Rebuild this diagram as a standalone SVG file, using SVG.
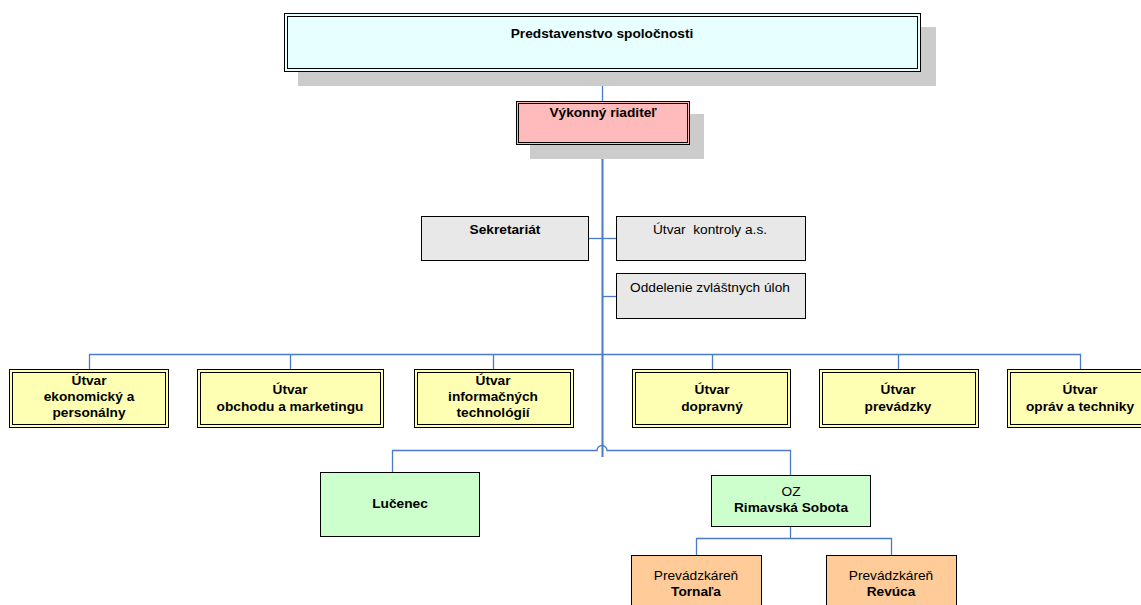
<svg xmlns="http://www.w3.org/2000/svg" width="1141" height="605" viewBox="0 0 1141 605">
<style>
text{font-family:"Liberation Sans",Arial,sans-serif;font-size:13.7px;text-anchor:middle;fill:#000;white-space:pre}
.b{font-weight:bold}
.o{stroke:#000;stroke-width:1}
.in{fill:none;stroke:#000;stroke-width:1}
.sh{fill:#CCCCCC}
.c{fill:none;stroke:#4A7BC8;stroke-width:1.3}
.t{fill:none;stroke:#4A7BC8;stroke-width:2}
.y{fill:#FFFFB3}
.g{fill:#E8E8E8}
.gr{fill:#CCFFCC}
.or{fill:#FFCC99}
</style>
<g id="connectors">
<path class="c" d="M602.5,71 V101"/>
<path class="t" d="M602.5,144 V457"/>
<path class="c" d="M588,238.5 H616"/>
<path class="c" d="M602,296.5 H616"/>
<path class="c" d="M89.5,369 V354.5 H1080.5 V369"/>
<path class="c" d="M290.5,354 V369 M493.5,354 V369 M712.5,354 V369 M898.5,354 V369"/>
<path class="c" d="M392.5,472 V450.5 H597 A5,5 0 0 1 607,450.5 H790.5 V475"/>
<path class="c" d="M790.5,526 V538.5 M696.5,555 V538.5 H891.5 V555"/>
</g>
<g id="n-predstavenstvo">
<rect class="sh" x="298" y="27" width="638" height="59"/>
<rect class="o" x="284.5" y="13.5" width="636" height="58" fill="#E8FFFF"/>
<rect class="in" x="287.5" y="16.5" width="630" height="52"/>
<text class="b" x="602" y="38">Predstavenstvo spoločnosti</text>
</g>
<g id="n-vykonny">
<rect class="sh" x="530" y="114" width="174" height="45"/>
<rect class="o" x="516.5" y="101.5" width="173" height="43" fill="#FFBBBB"/>
<rect class="in" x="518.5" y="103.5" width="169" height="39"/>
<text class="b" x="603" y="117">Výkonný riaditeľ</text>
</g>
<g id="n-sekretariat">
<rect class="o g" x="421.5" y="216.5" width="167" height="44"/>
<text class="b" x="505" y="234">Sekretariát</text>
</g>
<g id="n-kontrola">
<rect class="o g" x="616.5" y="216.5" width="189" height="44"/>
<text x="710" y="234">Útvar  kontroly a.s.</text>
</g>
<g id="n-oddelenie">
<rect class="o g" x="616.5" y="273.5" width="189" height="45"/>
<text x="710" y="292">Oddelenie zvláštnych úloh</text>
</g>
<g id="n-ekonomicky">
<rect class="o y" x="9.5" y="369.5" width="159" height="58"/>
<rect class="in" x="12.5" y="372.5" width="153" height="52"/>
<text class="b" x="89" y="385">Útvar</text>
<text class="b" x="89" y="401">ekonomický a</text>
<text class="b" x="89" y="417">personálny</text>
</g>
<g id="n-obchod">
<rect class="o y" x="197.5" y="369.5" width="186" height="58"/>
<rect class="in" x="200.5" y="372.5" width="180" height="52"/>
<text class="b" x="290" y="394">Útvar</text>
<text class="b" x="290" y="411">obchodu a marketingu</text>
</g>
<g id="n-it">
<rect class="o y" x="414.5" y="369.5" width="159" height="58"/>
<rect class="in" x="417.5" y="372.5" width="153" height="52"/>
<text class="b" x="493" y="385">Útvar</text>
<text class="b" x="493" y="401">informačných</text>
<text class="b" x="493" y="417">technológií</text>
</g>
<g id="n-dopravny">
<rect class="o y" x="632.5" y="369.5" width="158" height="58"/>
<rect class="in" x="635.5" y="372.5" width="152" height="52"/>
<text class="b" x="712" y="394">Útvar</text>
<text class="b" x="712" y="411">dopravný</text>
</g>
<g id="n-prevadzky">
<rect class="o y" x="819.5" y="369.5" width="159" height="58"/>
<rect class="in" x="822.5" y="372.5" width="153" height="52"/>
<text class="b" x="898" y="394">Útvar</text>
<text class="b" x="898" y="411">prevádzky</text>
</g>
<g id="n-oprav">
<rect class="o y" x="1007.5" y="369.5" width="159" height="58"/>
<rect class="in" x="1010.5" y="372.5" width="153" height="52"/>
<text class="b" x="1080" y="394">Útvar</text>
<text class="b" x="1080" y="411">opráv a techniky</text>
</g>
<g id="n-lucenec">
<rect class="o gr" x="320.5" y="472.5" width="159" height="64"/>
<text class="b" x="400" y="508">Lučenec</text>
</g>
<g id="n-rimavska">
<rect class="o gr" x="711.5" y="475.5" width="159" height="51"/>
<text x="791" y="496">OZ</text>
<text class="b" x="791" y="512">Rimavská Sobota</text>
</g>
<g id="n-tornala">
<rect class="o or" x="631.5" y="555.5" width="130" height="55"/>
<text x="696" y="580">Prevádzkáreň</text>
<text class="b" x="696" y="596">Tornaľa</text>
</g>
<g id="n-revuca">
<rect class="o or" x="826.5" y="555.5" width="130" height="55"/>
<text x="891" y="580">Prevádzkáreň</text>
<text class="b" x="891" y="596">Revúca</text>
</g>
</svg>
